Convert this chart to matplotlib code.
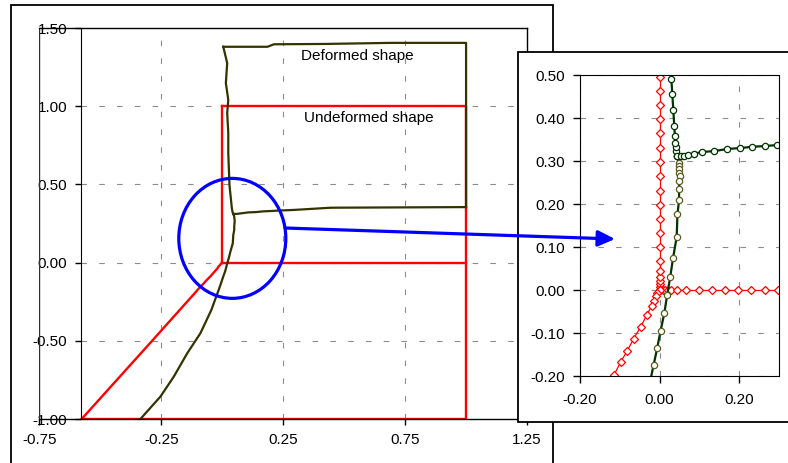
import matplotlib.pyplot as plt
from matplotlib.patches import Ellipse, Rectangle, FancyArrowPatch

plt.rcParams['font.family'] = ['Liberation Sans', 'DejaVu Sans']
plt.rcParams['axes.unicode_minus'] = False

# undeformed shape (red)
outline_x = [0.0, 1.0, 1.0, -0.577]
outline_y = [1.0, 1.0, -1.0, -1.0]
wall_y = [0, 0.0076, 0.0135, 0.020, 0.030, 0.045, 0.0675, 0.0996, 0.1325, 0.165, 0.198,
          0.231, 0.264, 0.298, 0.331, 0.364, 0.397, 0.430, 0.463, 0.496, 1.0]
wall_x = [0.0] * len(wall_y)
base_x = [0, 0.0076, 0.0135, 0.020, 0.030, 0.045, 0.0675, 0.0996, 0.1325, 0.165, 0.198,
          0.231, 0.264, 0.298, 1.0]
base_y = [0.0] * len(base_x)
diag_x = [0, -0.006, -0.009, -0.015, -0.020, -0.032, -0.047, -0.065, -0.081, -0.098, -0.114, -0.288, -0.577]
diag_y = [0, -0.008, -0.015, -0.025, -0.037, -0.058, -0.085, -0.113, -0.141, -0.168, -0.197, -0.5, -1.0]

# deformed shape (olive / dark green)
low_x = [0.045, 0.049, 0.049, 0.050, 0.050, 0.051, 0.050, 0.049, 0.049, 0.045, 0.043, 0.034, 0.027,
         0.019, 0.012, 0.0025, -0.006, -0.015, -0.045, -0.090, -0.144, -0.199, -0.254, -0.336]
low_y = [0.312, 0.296, 0.289, 0.281, 0.273, 0.266, 0.254, 0.235, 0.209, 0.176, 0.123, 0.075, 0.031,
         -0.012, -0.054, -0.095, -0.135, -0.175, -0.303, -0.452, -0.580, -0.729, -0.857, -1.0]
up_x = [0.045, 0.042, 0.041, 0.0395, 0.0385, 0.037, 0.0346, 0.032, 0.0296, 0.0245, 0.0245, 0.020,
        0.0245, 0.0146, 0.020, 0.004]
up_y = [0.312, 0.323, 0.333, 0.343, 0.358, 0.381, 0.418, 0.456, 0.491, 0.701, 0.829, 0.957,
        1.040, 1.148, 1.276, 1.380]
branch_x = [0.045, 0.053, 0.0616, 0.0726, 0.0869, 0.106, 0.1376, 0.1696, 0.2017, 0.232, 0.266, 0.295, 0.445, 1.0]
branch_y = [0.312, 0.311, 0.312, 0.314, 0.317, 0.321, 0.323, 0.328, 0.330, 0.333, 0.335, 0.337, 0.351, 0.355]
top_x = [0.004, 0.185, 0.212, 0.418, 0.692, 1.0, 1.0]
top_y = [1.380, 1.380, 1.396, 1.398, 1.405, 1.405, 0.355]

main_xticks = [-0.75, -0.25, 0.25, 0.75, 1.25]
main_yticks = [-1.0, -0.5, 0.0, 0.5, 1.0, 1.5]
zoom_xticks = [-0.2, 0.0, 0.2]
zoom_yticks = [-0.2, -0.1, 0.0, 0.1, 0.2, 0.3, 0.4, 0.5]

red = '#ff0000'
olive = '#333300'
dkgreen = '#003300'
grid_kw = dict(color='#8c8c8c', lw=0.8, linestyle=(0, (5, 11)))

fig = plt.figure(figsize=(7.88, 4.63), dpi=100)

# outer chart border
fig.add_artist(Rectangle((0.014, -0.02), 0.688, 1.009, transform=fig.transFigure,
                         fill=False, ec='black', lw=1.3, zorder=0.5))

ax = fig.add_axes([0.0501, 0.0950, 0.6187, 0.8445])
ax.set_zorder(0)
ax.set_xlim(-0.75, 1.25)
ax.set_ylim(-1.0, 1.5)
yax_pos = -0.579
ax.spines['left'].set_position(('data', yax_pos))
for s in ['top', 'right', 'bottom']:
    ax.spines[s].set_linewidth(1.0)
ax.axvline(-0.75, color='#303030', lw=1.0)
ax.vlines(main_xticks[1:-1], -1.0, 1.5, **grid_kw)
ax.hlines(main_yticks[1:-1], yax_pos, 1.25, **grid_kw)

ax.plot(outline_x, outline_y, color=red, lw=1.7)
ax.plot(wall_x, wall_y, color=red, lw=1.7)
ax.plot(base_x, base_y, color=red, lw=1.7)
ax.plot(diag_x, diag_y, color=red, lw=1.7)
ax.plot(low_x, low_y, color=olive, lw=1.6)
ax.plot(up_x, up_y, color=olive, lw=1.6)
ax.plot(branch_x, branch_y, color=olive, lw=1.6)
ax.plot(top_x, top_y, color=olive, lw=1.6)

ax.set_xticks(main_xticks)
ax.set_yticks(main_yticks)
ax.set_xticklabels(['%.2f' % v for v in main_xticks])
ax.set_yticklabels(['%.2f' % v for v in main_yticks])
ax.tick_params(direction='out', length=4, width=1, labelsize=11)
ax.tick_params(axis='x', pad=6)
ax.tick_params(axis='y', pad=6)

ax.text(0.552, 1.321, 'Deformed shape', ha='center', va='center', fontsize=11)
ax.text(0.602, 0.925, 'Undeformed shape', ha='center', va='center', fontsize=11)

ax.add_patch(Ellipse((0.041, 0.155), 0.439, 0.767, fill=False, ec='#0000ff', lw=2.3,
                     clip_on=False, zorder=5))

# zoomed view
fig.add_artist(Rectangle((0.6574, 0.0886), 0.4, 0.7991, transform=fig.transFigure,
                         fc='white', ec='black', lw=1.3, zorder=1))
ins = fig.add_axes([0.7360, 0.1879, 0.2525, 0.6501])
ins.set_zorder(2)
ins.set_xlim(-0.2, 0.3)
ins.set_ylim(-0.2, 0.5)
ins.set_xticks(zoom_xticks)
ins.set_yticks(zoom_yticks)
ins.set_xticklabels(['%.2f' % v for v in zoom_xticks])
ins.set_yticklabels(['%.2f' % v for v in zoom_yticks])
ins.tick_params(direction='out', length=5, width=1, labelsize=11)
ins.tick_params(axis='x', pad=7)
ins.tick_params(axis='y', pad=6)
ins.grid(True, **grid_kw)
ins.set_axisbelow(True)

mk_red = dict(color=red, lw=0.9, marker='D', ms=4, mfc='white', mec=red, mew=0.9)
ins.plot(wall_x, wall_y, **mk_red)
ins.plot(base_x, base_y, **mk_red)
ins.plot(diag_x, diag_y, **mk_red)
ins.plot(low_x, low_y, color=dkgreen, lw=1.6, marker='o', ms=4.5, mfc='white', mec='#5c5c1f', mew=0.9)
ins.plot(up_x, up_y, color=dkgreen, lw=1.6, marker='o', ms=4.5, mfc='white', mec=dkgreen, mew=0.9)
ins.plot(branch_x, branch_y, color=dkgreen, lw=1.6, marker='o', ms=4.5, mfc='white', mec=dkgreen, mew=0.9)

# arrow from circle to zoomed view
fig.add_artist(FancyArrowPatch((285 / 788, 1 - 228 / 463), (615 / 788, 1 - 239 / 463),
                               transform=fig.transFigure, arrowstyle='-|>,head_length=0.85,head_width=0.4',
                               mutation_scale=12, color='#0000ff', lw=2.3, shrinkA=0, shrinkB=0, zorder=3))

fig.savefig('out.png', dpi=100)
